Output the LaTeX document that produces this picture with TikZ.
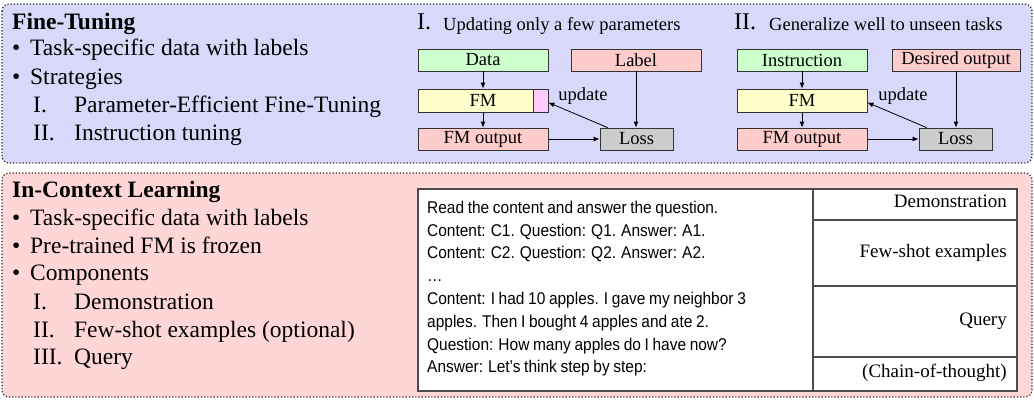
\documentclass[tikz,border=0pt]{standalone}
\usepackage{fontspec}
\setmainfont{Liberation Serif}
\setsansfont{Liberation Sans}
\newfontfamily\promptfont{Liberation Sans}[FakeStretch=0.91,WordSpace=0.85]
\usetikzlibrary{arrows.meta,calc}

\definecolor{ftback}{RGB}{216,216,250}
\definecolor{iclback}{RGB}{255,214,214}
\definecolor{greenbox}{RGB}{204,255,204}
\definecolor{pinkbox}{RGB}{255,204,204}
\definecolor{yellowbox}{RGB}{255,255,204}
\definecolor{magbox}{RGB}{255,204,255}
\definecolor{lossgrey}{RGB}{204,204,204}

\newcommand{\itembul}{\makebox[18pt][l]{\textbullet}}
\newcommand{\itemnum}[1]{\makebox[41pt][l]{#1}}

\begin{document}
\begin{tikzpicture}[x=1pt,y=-1pt,
    panel/.style={draw=black!85,dotted,line width=1.2pt,rounded corners=7pt},
    blk/.style={draw=black!80,line width=0.8pt,minimum height=22pt,inner sep=0pt,
        font=\fontsize{18.5}{18.5}\selectfont},
    big/.style={anchor=mid west,inner sep=0pt,font=\fontsize{23.5}{23.5}\selectfont},
    bigbold/.style={big,font=\fontsize{23.5}{23.5}\selectfont\bfseries},
    numbig/.style={anchor=mid west,inner sep=0pt,font=\fontsize{24}{24}\selectfont},
    subt/.style={anchor=mid west,inner sep=0pt,font=\fontsize{18.5}{18.5}\selectfont},
    upd/.style={inner sep=0pt,font=\fontsize{18.5}{18.5}\selectfont},
    arr/.style={-{Latex[length=6pt,width=5pt]},line width=0.8pt},
    prompt/.style={anchor=mid west,inner sep=0pt,font=\fontsize{17}{17}\promptfont},
    side/.style={anchor=mid east,inner sep=0pt,font=\fontsize{19}{19}\selectfont},
    boxline/.style={draw=black!70,line width=1.2pt}]
\useasboundingbox (0,0) rectangle (1034,400);

%%%%% PANELS %%%%%
\draw[panel,fill=ftback] (2,4) rectangle (1032,163);
\draw[panel,fill=iclback] (2,173) rectangle (1032,397);

%%%%% FINE-TUNING %%%%%
\node[bigbold] (fttitle) at (12,27) {Fine-Tuning};
\node[big] (ftdata) at (12,53) {\itembul Task-specific data with labels};
\node[big] (ftstrat) at (12,82) {\itembul Strategies};
\node[big] (ftpeft) at (33,110) {\itemnum{I.}Parameter-Efficient Fine-Tuning};
\node[big] (ftinst) at (33,138) {\itemnum{II.}Instruction tuning};

% I. parameter-efficient
\node[numbig] (numa) at (417,27) {I.};
\node[subt] (subta) at (443,28) {Updating only a few parameters};
\node[blk,fill=greenbox,minimum width=130pt] (data) at (483,60) {Data};
\node[blk,fill=pinkbox,minimum width=130pt] (label) at (636,60) {Label};
\node[blk,fill=yellowbox,minimum width=130pt,minimum height=23pt] (fma) at (483,100.5) {FM};
\node[blk,fill=magbox,minimum width=15pt,minimum height=23pt,anchor=east] (pef) at (fma.east) {};
\node[blk,fill=pinkbox,minimum width=130pt] (outa) at (483,139) {FM output};
\node[blk,fill=lossgrey,minimum width=73pt] (lossa) at (636.5,139) {Loss};
\draw[arr] (data) -- (fma);
\draw[arr] (fma) -- (outa);
\draw[arr] (outa) -- (lossa);
\draw[arr] (label.south) -- (label.south |- lossa.north);
\draw[arr] ($(lossa.north west)+(8,0)$) -- ($(pef.east)+(0,2)$);
\node[upd] (upda) at (583,96) {update};

% II. instruction tuning
\node[numbig] (numb) at (734,27) {II.};
\node[subt] (subtb) at (769,28) {Generalize well to unseen tasks};
\node[blk,fill=greenbox,minimum width=130pt] (instr) at (802,60) {Instruction};
\node[blk,fill=pinkbox,minimum width=128pt] (desired) at (956,60) {Desired output};
\node[blk,fill=yellowbox,minimum width=130pt,minimum height=23pt] (fmb) at (802,100.5) {FM};
\node[blk,fill=pinkbox,minimum width=130pt] (outb) at (802,139) {FM output};
\node[blk,fill=lossgrey,minimum width=73pt] (lossb) at (955.5,139) {Loss};
\draw[arr] (instr) -- (fmb);
\draw[arr] (fmb) -- (outb);
\draw[arr] (outb) -- (lossb);
\draw[arr] (desired.south) -- (desired.south |- lossb.north);
\draw[arr] ($(lossb.north west)+(8,0)$) -- ($(fmb.east)+(0,2)$);
\node[upd] (updb) at (903,96) {update};

%%%%% IN-CONTEXT LEARNING %%%%%
\node[bigbold] (icltitle) at (12,195) {In-Context Learning};
\node[big] (icldata) at (12,223) {\itembul Task-specific data with labels};
\node[big] (iclfrozen) at (12,251) {\itembul Pre-trained FM is frozen};
\node[big] (iclcomp) at (12,278) {\itembul Components};
\node[big] (icldemo) at (33,307) {\itemnum{I.}Demonstration};
\node[big] (iclfew) at (33,335) {\itemnum{II.}Few-shot examples (optional)};
\node[big] (iclquery) at (33,362) {\itemnum{III.}Query};

% prompt table
\draw[boxline,fill=white] (418,189) rectangle (1017,391);
\draw[boxline] (813,189) -- (813,391);
\draw[boxline] (813,220) -- (1017,220);
\draw[boxline] (813,286) -- (1017,286);
\draw[boxline] (813,357) -- (1017,357);

\node[prompt] (pa) at (427,211) {Read the content and answer the question.};
\node[prompt] (pb) at (427,233.8) {Content: C1. Question: Q1. Answer: A1.};
\node[prompt] (pc) at (427,256.6) {Content: C2. Question: Q2. Answer: A2.};
\node[prompt] (pd) at (427,279.4) {…};
\node[prompt] (pe) at (427,302.2) {Content: I had 10 apples. I gave my neighbor 3};
\node[prompt] (pf) at (427,325) {apples. Then I bought 4 apples and ate 2.};
\node[prompt] (pg) at (427,347.8) {Question: How many apples do I have now?};
\node[prompt] (ph) at (427,370.6) {Answer: Let’s think step by step:};

\node[side] (sdemo) at (1007,205) {Demonstration};
\node[side] (sfew) at (1007,255) {Few-shot examples};
\node[side] (squery) at (1007,323) {Query};
\node[side] (scot) at (1007,375) {(Chain-of-thought)};
\end{tikzpicture}
\end{document}
